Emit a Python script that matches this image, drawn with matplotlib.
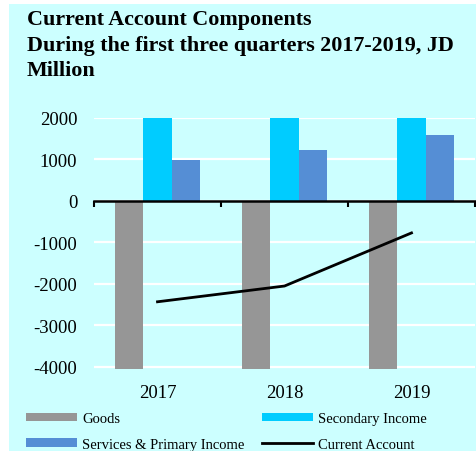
import matplotlib
matplotlib.use('Agg')
import matplotlib.pyplot as plt
from matplotlib.patches import Rectangle
import numpy as np

years = ['2017', '2018', '2019']
goods = [-4050, -4050, -4050]
secondary_income = [2000, 2000, 2000]
services_primary = [990, 1240, 1600]
current_account = [-2430, -2050, -770]

plt.rcParams['font.family'] = ['Liberation Serif', 'DejaVu Serif']
plt.rcParams['axes.unicode_minus'] = False

fig = plt.figure(figsize=(4.76, 4.52), dpi=100)
fig.patch.set_facecolor('white')

# light cyan panel behind everything
fig.patches.append(Rectangle((9 / 476, 0), 1 - 9 / 476, 1 - 5 / 452,
                             transform=fig.transFigure, facecolor='#CCFFFF',
                             edgecolor='none', zorder=-5))

ax = fig.add_axes([94 / 476, 1 - 370 / 452, 381 / 476, 251 / 452])
ax.set_facecolor('none')

x = np.arange(len(years))
w = 0.222
b_goods = ax.bar(x - w, goods, w, color='#969696', zorder=2)
b_sec = ax.bar(x, secondary_income, w, color='#00CCFF', zorder=2)
b_serv = ax.bar(x + w, services_primary, w, color='#558ED5', zorder=2)
ln, = ax.plot(x, current_account, color='black', lw=2, zorder=3)

ax.set_xlim(-0.5, 2.5)
ax.set_ylim(-4050, 2000)
ax.set_yticks([2000, 1000, 0, -1000, -2000, -3000, -4000])
ax.yaxis.grid(True, color='white', lw=1.6, zorder=1)
ax.set_axisbelow(True)
ax.tick_params(axis='y', length=0, pad=12, labelsize=13.5)

for side in ['top', 'right', 'left']:
    ax.spines[side].set_visible(False)
ax.spines['bottom'].set_position(('data', 0))
ax.spines['bottom'].set_linewidth(1.8)
ax.spines['bottom'].set_zorder(4)

# ticks between the years sit on the zero line
ax.set_xticks([])
ax.set_xticks([-0.5, 0.5, 1.5, 2.5], minor=True)
ax.tick_params(axis='x', which='minor', length=4, width=1.5, direction='out')

sec = ax.secondary_xaxis('bottom')
sec.set_xticks(x, labels=years)
sec.spines['bottom'].set_visible(False)
sec.tick_params(length=0, pad=11, labelsize=13.5)

fig.text(27 / 476, 1 - 10 / 452,
         'Current Account Components\nDuring the first three quarters 2017-2019, JD\nMillion',
         fontsize=15.8, fontweight='bold', ha='left', va='top', linespacing=1.38)

fig.legend([b_goods, b_serv, b_sec, ln],
           ['Goods', 'Services & Primary Income', 'Secondary Income', 'Current Account'],
           ncol=2, loc='upper left', bbox_to_anchor=(13 / 476, 1 - 400 / 452),
           frameon=False, fontsize=10.5, handlelength=3.5, handleheight=0.5,
           handletextpad=0.35, columnspacing=1.2, labelspacing=0.85)

fig.savefig('out.png', dpi=100, facecolor=fig.get_facecolor())
